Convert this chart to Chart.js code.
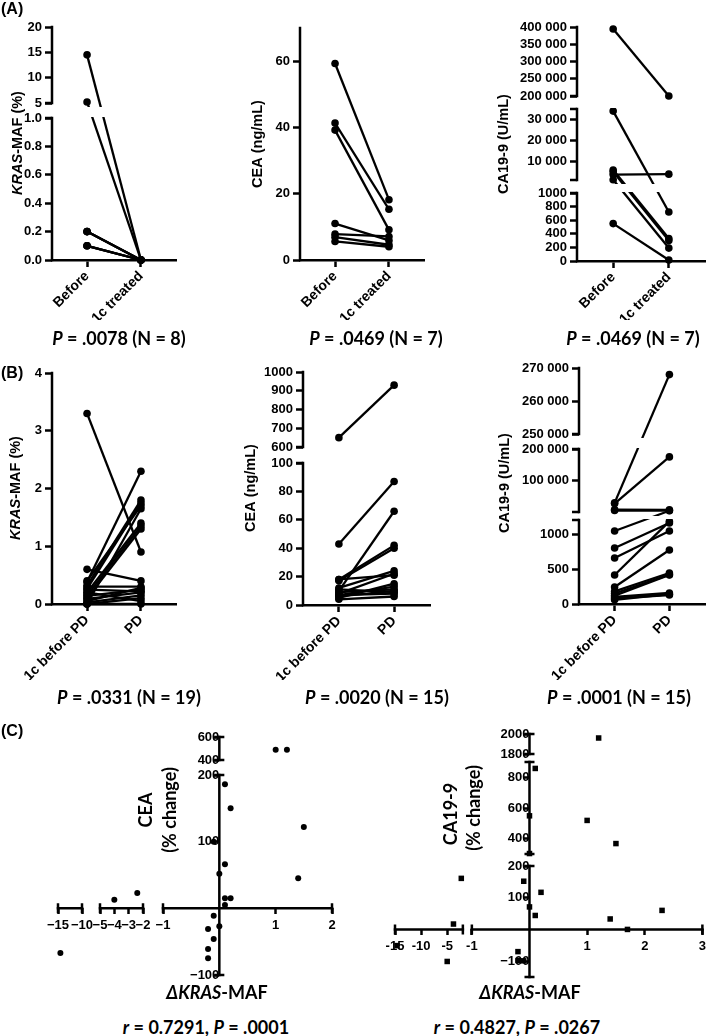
<!DOCTYPE html>
<html>
<head>
<meta charset="utf-8">
<script src="https://cdn.jsdelivr.net/npm/chart.js@4.4.1/dist/chart.umd.min.js"></script>
<style>
  body { margin: 0; background: #fff; }
  #fig { position: relative; width: 709px; height: 1036px; overflow: hidden; background: #fff; }
  canvas { position: absolute; }
  .lab { position: absolute; left: 1px; font: bold 16px "Liberation Sans", Arial, sans-serif; transform: translateY(-50%); }
  .cap { position: absolute; font: bold 18px Lato, sans-serif; transform: translate(-50%, -50%); white-space: nowrap; }
</style>
</head>
<body>
<div id="fig">
  <canvas id="a1"></canvas>
  <canvas id="a2"></canvas>
  <canvas id="a3"></canvas>
  <canvas id="b1"></canvas>
  <canvas id="b2"></canvas>
  <canvas id="b3"></canvas>
  <canvas id="c1"></canvas>
  <canvas id="c2"></canvas>

  <div class="lab" style="top:9px">(A)</div>
  <div class="lab" style="top:373px">(B)</div>
  <div class="lab" style="top:731px">(C)</div>

  <div class="cap" style="left:119px;top:338px"><i>P</i> = .0078 (N = 8)</div>
  <div class="cap" style="left:376px;top:338px"><i>P</i> = .0469 (N = 7)</div>
  <div class="cap" style="left:633px;top:338px"><i>P</i> = .0469 (N = 7)</div>
  <div class="cap" style="left:129px;top:697px"><i>P</i> = .0331 (N = 19)</div>
  <div class="cap" style="left:377px;top:697px"><i>P</i> = .0020 (N = 15)</div>
  <div class="cap" style="left:619px;top:697px"><i>P</i> = .0001 (N = 15)</div>
  <div class="cap" style="left:206px;top:1027px"><i>r</i> = 0.7291, <i>P</i> = .0001</div>
  <div class="cap" style="left:517px;top:1027px"><i>r</i> = 0.4827, <i>P</i> = .0267</div>
</div>
<script>
// ---- data ----
const A_LABELS = ['Before', '1c treated'];
const B_LABELS = ['1c before PD', 'PD'];

// (A) before vs after 1 cycle
const A1_BEFORE = [14.5, 5.2, 0.2, 0.2, 0.1, 0.1, 0.1, 0.2];
const A1_AFTER  = [0, 0, 0, 0, 0, 0, 0, 0];
const A2_BEFORE = [59.3, 41.3, 39.2, 11.0, 7.8, 6.9, 5.6];
const A2_AFTER  = [18.2, 15.3, 9.1, 5.9, 7.1, 4.6, 4.0];
const A3_BEFORE = [394000, 34000, 3600, 5800, 4900, 1100, 550];
const A3_AFTER  = [200000, 720, 3800, 330, 300, 190, 15];

// (B) 1 cycle before PD vs PD
const B1_BEFORE = [3.3, 0.6, 0.4, 0.38, 0.32, 0.3, 0.26, 0.2, 0.2, 0.15, 0.14, 0.1, 0.09, 0.05, 0.03, 0, 0, 0, 0.25];
const B1_AFTER  = [0.9, 0.4, 1.7, 2.3, 1.8, 0.3, 1.75, 1.4, 0.05, 1.35, 0.25, 1.3, 0.2, 0.28, 0.15, 0.1, 0, 1.65, 0.22];
const B2_BEFORE = [650, 43, 10, 18, 17, 12, 8, 18, 5, 7, 9, 6, 11, 7, 4];
const B2_AFTER  = [930, 87, 66, 42, 40, 24, 22, 21, 15, 13, 11, 10, 9, 8, 6];
const B3_BEFORE = [30000, 28000, 6000, 9000, 1043, 800, 657, 414, 243, 180, 120, 100, 80, 150, 60];
const B3_AFTER  = [268000, 175000, 6000, 8000, 5000, 1157, 1043, 1180, 771, 443, 414, 157, 128, 420, 140];

// (C) correlations
const C1_DKRAS = [1.0, 1.2, 0.1, 0.2, 1.5, -0.1, 0.1, 0, 1.4, 0.1, 0.2, 0.1, -0.1, 0, -0.2, -0.1, -0.2, -0.2, -4, -2.4, -14.5];
const C1_CEA   = [490, 490, 186, 150, 122, 100, 66, 52, 45, 15, 15, 5, -11, -27, -31, -46, -61, -75, 13, 23, -67];
const C2_DKRAS = [1.2, 0.1, 0, 1.0, 1.5, 0, -2.3, -0.1, 0.2, 0, 0.1, 2.3, 1.4, 1.7, -3.8, -14.6, -5, -0.2, -0.2, -0.1];
const C2_CA199 = [1960, 858, 549, 519, 368, 303, 161, 152, 117, 71, 44, 60, 33, 0, 17, -51, -101, -70, -98, -99];

// tick values and labels
const A1_TICKS = [0, 0.2, 0.4, 0.6, 0.8, 1, 5, 10, 15, 20];
const A1_TICK_LABELS = ['0.0', '0.2', '0.4', '0.6', '0.8', '1.0', '5', '10', '15', '20'];
const A2_TICKS = [0, 20, 40, 60];
const A2_TICK_LABELS = ['0', '20', '40', '60'];
const A3_TICKS = [0, 200, 400, 600, 800, 1000, 10000, 20000, 30000, 200000, 250000, 300000, 350000, 400000];
const A3_TICK_LABELS = ['0', '200', '400', '600', '800', '1000', '10 000', '20 000', '30 000', '200 000', '250 000', '300 000', '350 000', '400 000'];
const B1_TICKS = [0, 1, 2, 3, 4];
const B1_TICK_LABELS = ['0', '1', '2', '3', '4'];
const B2_TICKS = [0, 20, 40, 60, 80, 100, 600, 700, 800, 900, 1000];
const B2_TICK_LABELS = ['0', '20', '40', '60', '80', '100', '600', '700', '800', '900', '1000'];
const B3_TICKS = [0, 500, 1000, 100000, 200000, 250000, 260000, 270000];
const B3_TICK_LABELS = ['0', '500', '1000', '100 000', '200 000', '250 000', '260 000', '270 000'];
const C1_XTICKS = [-15, -10, -5, -4, -3, -2, -1, 1, 2];
const C1_XTICK_LABELS = ['\u221215', '\u221210', '\u22125', '\u22124', '\u22123', '\u22122', '\u22121', '1', '2'];
const C1_YTICKS = [-100, 100, 200, 400, 600];
const C1_YTICK_LABELS = ['\u2212100', '100', '200', '400', '600'];
const C2_XTICKS = [-15, -10, -5, -1, 1, 2, 3];
const C2_XTICK_LABELS = ['-15', '-10', '-5', '-1', '1', '2', '3'];
const C2_YTICKS = [-100, 100, 200, 400, 600, 800, 1800, 2000];
const C2_YTICK_LABELS = ['\u2212100', '100', '200', '400', '600', '800', '1800', '2000'];

// ---- broken axis scale: segments [min, max, length], gaps in px ----
const LinearScale = Chart.registry.getScale('linear');
class BrokenScale extends LinearScale {
  determineDataLimits() {
    const s = this.options.segments;
    this.min = s[0][0];
    this.max = s[s.length - 1][1];
  }
  buildTicks() {
    return this.options.tickValues.map(v => ({ value: v }));
  }
  _segPx() {
    const segs = this.options.segments, gaps = this.options.gaps || [];
    const horiz = this.isHorizontal();
    const len = horiz ? this.width : this.height;
    const total = segs.reduce((a, s) => a + s[2], 0);
    const usable = len - gaps.reduce((a, g) => a + g, 0);
    let off = 0;
    return segs.map((s, i) => {
      const a = off, b = off + usable * s[2] / total;
      off = b + (gaps[i] || 0);
      return horiz ? [this.left + a, this.left + b] : [this.bottom - a, this.bottom - b];
    });
  }
  getPixelForValue(v) {
    const segs = this.options.segments, px = this._segPx();
    const lin = (i, val) => px[i][0] + (val - segs[i][0]) / (segs[i][1] - segs[i][0]) * (px[i][1] - px[i][0]);
    for (let i = 0; i < segs.length; i++) {
      if (v <= segs[i][1]) {
        if (i > 0 && v < segs[i][0]) {
          const t = (v - segs[i - 1][1]) / (segs[i][0] - segs[i - 1][1]);
          return px[i - 1][1] + t * (px[i][0] - px[i - 1][1]);
        }
        return lin(i, v);
      }
    }
    return lin(segs.length - 1, v);
  }
  getValueForPixel(p) {
    const segs = this.options.segments, px = this._segPx();
    for (let i = 0; i < segs.length; i++) {
      const t = (p - px[i][0]) / (px[i][1] - px[i][0]);
      if (t <= 1 || i === segs.length - 1) return segs[i][0] + t * (segs[i][1] - segs[i][0]);
    }
  }
}
BrokenScale.id = 'broken';
BrokenScale.defaults = {};
Chart.register(BrokenScale);

Chart.defaults.font.family = '"Liberation Sans", Arial, sans-serif';
Chart.defaults.font.size = 13;
Chart.defaults.font.weight = 'bold';
Chart.defaults.color = '#000';

// draws the axis segments, caps and the white break bands
const brokenAxes = {
  id: 'brokenAxes',
  afterDatasetsDraw(chart, args, opts) {
    const ctx = chart.ctx, ca = chart.chartArea;
    ['x', 'y'].forEach(id => {
      const sc = chart.scales[id];
      if (!sc || sc.type !== 'broken') return;
      const horiz = sc.isHorizontal();
      const px = sc._segPx();
      const at = opts.cross ? chart.scales[horiz ? 'y' : 'x'].getPixelForValue(0) : (horiz ? sc.top : sc.right);
      ctx.save();
      if (opts.bands && !horiz) {
        ctx.fillStyle = '#fff';
        for (let i = 0; i < px.length - 1; i++) {
          const y0 = px[i + 1][0] + 4, y1 = px[i][1] - 1;
          if (y1 > y0) ctx.fillRect(at + 2, y0, ca.right - at + 4, y1 - y0);
        }
      }
      ctx.strokeStyle = '#000';
      ctx.lineWidth = 2.5;
      ctx.lineCap = 'square';
      ctx.beginPath();
      px.forEach(([p0, p1]) => {
        if (horiz) { ctx.moveTo(p0, at); ctx.lineTo(p1, at); }
        else { ctx.moveTo(at, p0); ctx.lineTo(at, p1); }
      });
      ctx.stroke();
      ctx.lineCap = 'butt';
      ctx.beginPath();
      px.forEach(([p0, p1], i) => {
        const ends = [];
        if (opts.caps === 'both') ends.push(p0, p1);
        else { if (i > 0) ends.push(p0); if (i < px.length - 1) ends.push(p1); }
        ends.forEach(p => {
          if (opts.caps === 'both') {
            if (horiz) { ctx.moveTo(p, at - 5); ctx.lineTo(p, at + 5); }
            else { ctx.moveTo(at - 5, p); ctx.lineTo(at + 5, p); }
          } else {
            if (horiz) { ctx.moveTo(p, at); ctx.lineTo(p, at + 7); }
            else { ctx.moveTo(at - 7, p); ctx.lineTo(at, p); }
          }
        });
      });
      ctx.stroke();
      ctx.restore();
    });
  }
};

// axis titles with mixed italic parts
function textPlugin(items) {
  return {
    id: 'texts',
    afterDraw(chart) {
      const ctx = chart.ctx;
      items.forEach(it => {
        const fam = it.family || '"Liberation Sans", Arial, sans-serif';
        const fontOf = ital => (ital ? 'italic ' : '') + 'bold ' + it.size + 'px ' + fam;
        ctx.save();
        ctx.translate(it.x, it.y);
        if (it.rot) ctx.rotate(it.rot * Math.PI / 180);
        ctx.fillStyle = '#000';
        ctx.textBaseline = 'middle';
        ctx.textAlign = 'left';
        let w = 0;
        it.parts.forEach(([t, ital]) => { ctx.font = fontOf(ital); w += ctx.measureText(t).width; });
        let x = -w / 2;
        it.parts.forEach(([t, ital]) => { ctx.font = fontOf(ital); ctx.fillText(t, x, 0); x += ctx.measureText(t).width; });
        ctx.restore();
      });
    }
  };
}

const tickGrid = { display: true, drawOnChartArea: false, drawTicks: true, tickLength: 7, tickWidth: 2.5, tickColor: '#000', color: '#000' };

function place(id, g) {
  const cv = document.getElementById(id);
  cv.width = g.w; cv.height = g.h;
  cv.style.left = g.left + 'px'; cv.style.top = g.top + 'px';
  return cv;
}

function pairedChart(id, g, before, after, xLabels, yAxis, ticks, tickLabels, title) {
  const cv = place(id, g);
  new Chart(cv, {
    type: 'scatter',
    data: {
      datasets: before.map((b, i) => ({
        data: [{ x: 0, y: b }, { x: 1, y: after[i] }],
        showLine: true,
        borderColor: '#000',
        borderWidth: 2.3,
        pointRadius: 3.8,
        pointBackgroundColor: '#000',
        pointBorderWidth: 0,
        clip: false
      }))
    },
    options: {
      responsive: false,
      animation: false,
      events: [],
      layout: { padding: { left: 0, top: g.yTop - g.top, right: g.left + g.w - g.xRight, bottom: 0 } },
      plugins: { legend: { display: false }, tooltip: { enabled: false }, brokenAxes: { bands: true, caps: 'out' } },
      scales: {
        x: {
          type: 'linear', min: -0.65, max: 1.65,
          afterBuildTicks: s => { s.ticks = [{ value: 0 }, { value: 1 }]; },
          afterFit: s => { s.height = g.top + g.h - g.yBottom; },
          ticks: { callback: (v, i) => xLabels[i], autoSkip: false, minRotation: 45, maxRotation: 45, padding: 1, font: { size: 14 } },
          grid: tickGrid,
          border: { display: true, color: '#000', width: 2.5 }
        },
        y: {
          type: 'broken',
          segments: yAxis.segments, gaps: yAxis.gaps, tickValues: ticks,
          afterFit: s => { s.width = g.axisX - g.left; },
          ticks: { callback: (v, i) => tickLabels[i], autoSkip: false, padding: 3 },
          grid: tickGrid,
          border: { display: false }
        }
      }
    },
    plugins: [brokenAxes, textPlugin([title])]
  });
}

function scatterChart(id, g, xs, ys, xAxis, yAxis, xt, xtl, yt, ytl, pointStyle, radius, titles) {
  const cv = place(id, g);
  const axisCommon = { ticks: { autoSkip: false, minRotation: 0, maxRotation: 0, padding: 3 }, grid: Object.assign({}, tickGrid, { tickLength: 6 }), border: { display: false } };
  new Chart(cv, {
    type: 'scatter',
    data: {
      datasets: [{
        data: xs.map((x, i) => ({ x: x, y: ys[i] })),
        pointStyle: pointStyle,
        pointRadius: radius,
        pointBackgroundColor: '#000',
        pointBorderWidth: 0,
        clip: false
      }]
    },
    options: {
      responsive: false,
      animation: false,
      events: [],
      layout: { padding: { left: g.xLeft - g.left, right: g.left + g.w - g.xRight, top: g.yTop - g.top, bottom: g.top + g.h - g.yBottom } },
      plugins: { legend: { display: false }, tooltip: { enabled: false }, brokenAxes: { cross: true, caps: 'both' } },
      scales: {
        x: Object.assign({}, axisCommon, {
          type: 'broken', position: { y: 0 },
          segments: xAxis.segments, gaps: xAxis.gaps, tickValues: xt,
          ticks: Object.assign({}, axisCommon.ticks, { callback: (v, i) => xtl[i] })
        }),
        y: Object.assign({}, axisCommon, {
          type: 'broken', position: { x: 0 },
          segments: yAxis.segments, gaps: yAxis.gaps, tickValues: yt,
          ticks: Object.assign({}, axisCommon.ticks, { callback: (v, i) => ytl[i], padding: 2 })
        })
      }
    },
    plugins: [brokenAxes, textPlugin(titles)]
  });
}

// ---- axis break layouts ----
const A1_Y = { segments: [[0, 1, 142], [5, 20, 76]], gaps: [15] };
const A2_Y = { segments: [[0, 70, 232]], gaps: [] };
const A3_Y = { segments: [[0, 1000, 68], [1000, 35000, 71], [200000, 400000, 69]], gaps: [13, 13] };
const B1_Y = { segments: [[0, 4, 231]], gaps: [] };
const B2_Y = { segments: [[0, 100, 142], [600, 1000, 75]], gaps: [16] };
const B3_Y = { segments: [[0, 1200, 84], [1200, 200000, 63], [250000, 270000, 66]], gaps: [8, 15] };
const C1_XAX = { segments: [[-15, -10, 24], [-5, -2, 43], [-1, 2, 169]], gaps: [18, 20] };
const C1_YAX = { segments: [[-100, 200, 200], [400, 600, 23]], gaps: [15] };
const C2_XAX = { segments: [[-15, -2, 68], [-1, 3, 231]], gaps: [9] };
const C2_YAX = { segments: [[-150, 200, 111], [300, 900, 92], [1800, 2000, 20]], gaps: [12, 8] };

const kras = size => [['KRAS', true], ['-MAF (%)', false]];

pairedChart('a1', { left: 0, top: 0, w: 230, h: 320, axisX: 52, yTop: 27, yBottom: 260, xRight: 176 },
  A1_BEFORE, A1_AFTER, A_LABELS, A1_Y, A1_TICKS, A1_TICK_LABELS,
  { x: 18, y: 143, rot: -90, size: 14.5, parts: kras() });
pairedChart('a2', { left: 230, top: 0, w: 230, h: 320, axisX: 300, yTop: 28, yBottom: 260, xRight: 424 },
  A2_BEFORE, A2_AFTER, A_LABELS, A2_Y, A2_TICKS, A2_TICK_LABELS,
  { x: 28, y: 144, rot: -90, size: 14.5, parts: [['CEA (ng/mL)', false]] });
pairedChart('a3', { left: 460, top: 0, w: 249, h: 320, axisX: 577, yTop: 27, yBottom: 261, xRight: 709 },
  A3_BEFORE, A3_AFTER, A_LABELS, A3_Y, A3_TICKS, A3_TICK_LABELS,
  { x: 44, y: 144, rot: -90, size: 14.5, parts: [['CA19-9 (U/mL)', false]] });

pairedChart('b1', { left: 0, top: 345, w: 230, h: 335, axisX: 52, yTop: 373, yBottom: 604, xRight: 176 },
  B1_BEFORE, B1_AFTER, B_LABELS, B1_Y, B1_TICKS, B1_TICK_LABELS,
  { x: 16, y: 143, rot: -90, size: 14.5, parts: kras() });
pairedChart('b2', { left: 230, top: 345, w: 230, h: 335, axisX: 303, yTop: 372, yBottom: 605, xRight: 430 },
  B2_BEFORE, B2_AFTER, B_LABELS, B2_Y, B2_TICKS, B2_TICK_LABELS,
  { x: 21, y: 143, rot: -90, size: 14.5, parts: [['CEA (ng/mL)', false]] });
pairedChart('b3', { left: 460, top: 345, w: 249, h: 335, axisX: 579, yTop: 368, yBottom: 604, xRight: 709 },
  B3_BEFORE, B3_AFTER, B_LABELS, B3_Y, B3_TICKS, B3_TICK_LABELS,
  { x: 45, y: 138, rot: -90, size: 14.5, parts: [['CA19-9 (U/mL)', false]] });

const LATO = 'Lato, sans-serif';
scatterChart('c1', { left: 0, top: 700, w: 350, h: 310, xLeft: 58, xRight: 332, yTop: 737, yBottom: 975 },
  C1_DKRAS, C1_CEA, C1_XAX, C1_YAX, C1_XTICKS, C1_XTICK_LABELS, C1_YTICKS, C1_YTICK_LABELS, 'circle', 3, [
    { x: 146, y: 110, rot: -90, size: 18, family: LATO, parts: [['CEA', false]] },
    { x: 170, y: 110, rot: -90, size: 18, family: LATO, parts: [['(% change)', false]] },
    { x: 217, y: 293, size: 18, family: LATO, parts: [['\u0394KRAS', true], ['-MAF', false]] }
  ]);
scatterChart('c2', { left: 350, top: 700, w: 359, h: 310, xLeft: 395, xRight: 703, yTop: 734, yBottom: 977 },
  C2_DKRAS, C2_CA199, C2_XAX, C2_YAX, C2_XTICKS, C2_XTICK_LABELS, C2_YTICKS, C2_YTICK_LABELS, 'rect', 3.9, [
    { x: 101, y: 114, rot: -90, size: 18, family: LATO, parts: [['CA19-9', false]] },
    { x: 124, y: 108, rot: -90, size: 18, family: LATO, parts: [['(% change)', false]] },
    { x: 180, y: 293, size: 18, family: LATO, parts: [['\u0394KRAS', true], ['-MAF', false]] }
  ]);
</script>
</body>
</html>
